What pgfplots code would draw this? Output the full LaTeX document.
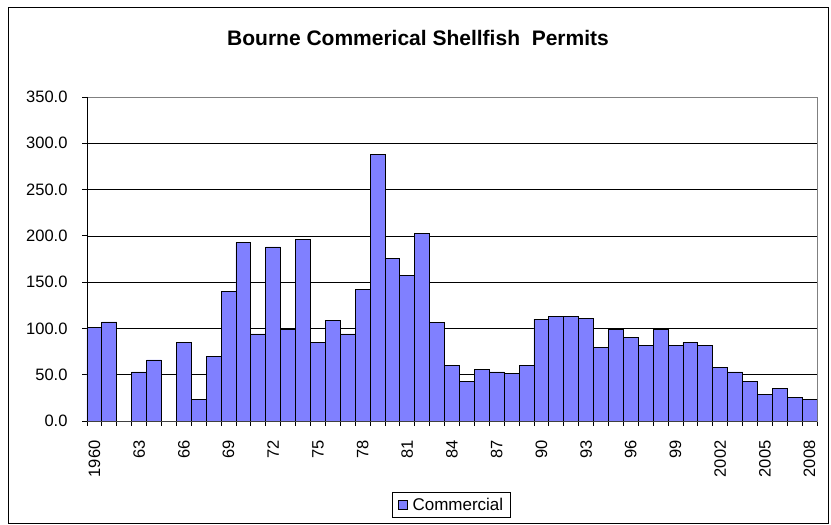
\documentclass[border=0pt]{standalone}
\usepackage{pgfplots}
\pgfplotsset{compat=1.18}
\usepackage{fontspec}
\setmainfont{Liberation Sans}
\definecolor{barblue}{RGB}{128,128,255}
\definecolor{bordergray}{RGB}{128,128,128}
\begin{document}
\begin{tikzpicture}[x=1pt,y=1pt]
\useasboundingbox (0,0) rectangle (831,525);
\draw[black,line width=1pt] (8,1.5) rectangle (828.5,517);
\node[anchor=base,font=\fontsize{21}{25}\selectfont\bfseries] at (418,479) {Bourne Commerical Shellfish\ \ Permits};
\begin{axis}[
  at={(87pt,104pt)}, anchor=south west,
  scale only axis, width=730pt, height=324pt,
  xmin=1959.5, xmax=2008.5, ymin=0, ymax=350,
  ybar, bar width=1,
  axis line style={bordergray, line width=0.8pt},
  xtick={1960,1963,...,2008},
  xticklabels={1960,63,66,69,72,75,78,81,84,87,90,93,96,99,2002,2005,2008},
  major x tick style={draw=none},
  minor xtick={1959.5,1960.5,...,2008.5},
  minor x tick style={black, line width=0.8pt},
  minor tick length=5pt,
  ytick={0,50,...,350},
  major tick length=5pt,
  y tick style={black, line width=0.8pt},
  tick align=outside,
  xtick pos=bottom, ytick pos=left,
  ymajorgrids, grid style={black, line width=0.7pt},
  /pgf/number format/assume math mode=true,
  yticklabel style={/pgf/number format/.cd, fixed, fixed zerofill, precision=1, 1000 sep={}, /tikz/.cd, font=\fontsize{16.5}{19}\selectfont, anchor=east, xshift=-11pt},
  xticklabel style={font=\fontsize{16.5}{19}\selectfont, rotate=90, anchor=east, xshift=-11pt},
  legend style={at={(0.4993,-0.259)}, anchor=center, draw=black, line width=0.8pt, font=\fontsize{17}{20}\selectfont, inner xsep=5pt, inner ysep=4pt, column sep=3pt},
  legend image code/.code={\draw[fill=barblue, draw=black, line width=0.8pt] (0pt,-4.5pt) rectangle (9pt,4.5pt);},
  after end axis/.code={\draw[black, line width=0.8pt] (rel axis cs:0,1) -- (rel axis cs:0,0); \draw[black!75, line width=0.8pt] (rel axis cs:0,0) -- (rel axis cs:1,0);},
]
\addplot[fill=barblue, draw=black, line width=0.8pt] coordinates {
(1960,101) (1961,107) (1963,53) (1964,66) (1966,85) (1967,23) (1968,70)
(1969,140) (1970,193) (1971,94) (1972,188) (1973,99) (1974,196) (1975,85)
(1976,109) (1977,94) (1978,142) (1979,288) (1980,176) (1981,157) (1982,203)
(1983,106) (1984,60) (1985,42.5) (1986,56) (1987,53) (1988,51.5) (1989,60)
(1990,110) (1991,113) (1992,113) (1993,111) (1994,79) (1995,99) (1996,90)
(1997,82) (1998,99) (1999,82) (2000,85) (2001,82) (2002,58) (2003,53)
(2004,43) (2005,29) (2006,35) (2007,25) (2008,23)
};
\addlegendentry{Commercial}
\end{axis}
\end{tikzpicture}
\end{document}
